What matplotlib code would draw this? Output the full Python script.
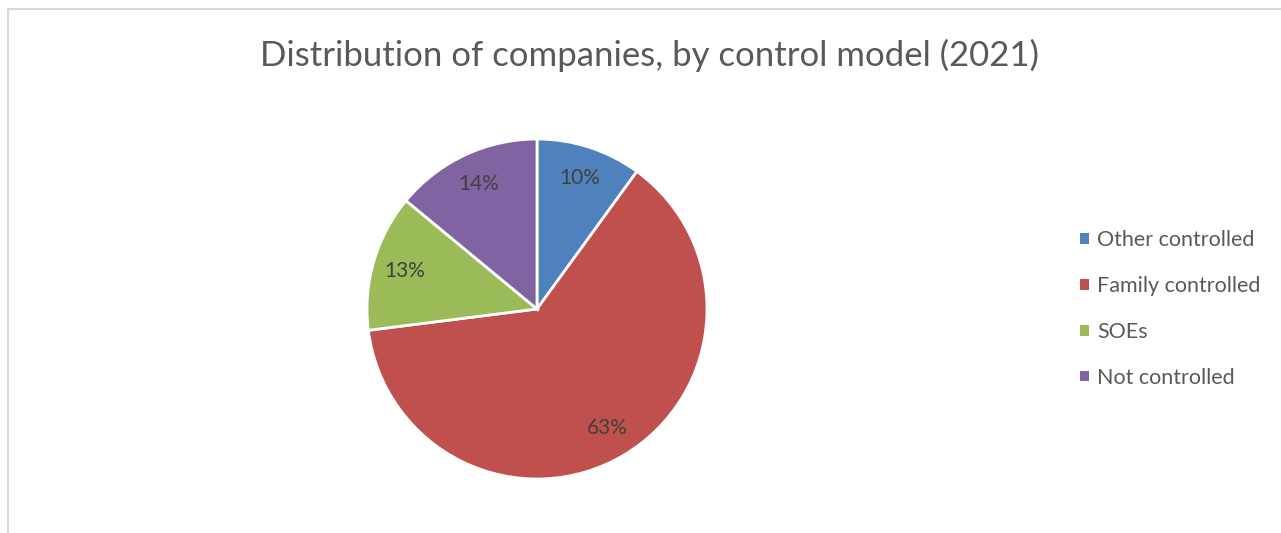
import matplotlib.pyplot as plt
from matplotlib.lines import Line2D
from matplotlib.patches import Patch

plt.rcParams['font.family'] = ['Lato', 'DejaVu Sans']

# share of companies by control model
categories = ['Other controlled', 'Family controlled', 'SOEs', 'Not controlled']
shares = [10, 63, 13, 14]
colors = ['#4F81BD', '#C0504D', '#9BBB59', '#8064A2']

W, H = 1281, 533
fig = plt.figure(figsize=(W / 100, H / 100), dpi=100)

# light frame on the left and top
fig.add_artist(Line2D([8 / W, 8 / W], [0, 1 - 9 / H], color='#d9d9d9', lw=1.5))
fig.add_artist(Line2D([8 / W, 1], [1 - 9 / H, 1 - 9 / H], color='#d9d9d9', lw=1.5))

fig.text(649 / W, 1 - 55 / H, 'Distribution of companies, by control model (2021)',
         ha='center', va='center', fontsize=25, color='#595959')

# pie centred at (537, 309) px with radius 170 px
cx, cy, r = 537, 309, 170
ax = fig.add_axes([(cx - r) / W, (H - cy - r) / H, 2 * r / W, 2 * r / H])
wedges, texts = ax.pie(shares, colors=colors, startangle=90, counterclock=False,
                       labels=[f'{s}%' for s in shares], labeldistance=0.81,
                       wedgeprops=dict(edgecolor='white', linewidth=2, clip_on=False),
                       textprops=dict(fontsize=15, color='#404040', ha='center', va='center'))
ax.set_xlim(-1, 1)
ax.set_ylim(-1, 1)
ax.set_aspect('equal')
ax.axis('off')

handles = [Patch(facecolor=c, edgecolor='none') for c in colors]
fig.legend(handles, categories, loc='center left', bbox_to_anchor=(1061 / W, 1 - 309 / H),
           frameon=False, fontsize=15.5, labelcolor='#595959', handlelength=0.4,
           handleheight=0.4, handletextpad=0.37, labelspacing=1.2)

fig.savefig('out.png', dpi=100)
